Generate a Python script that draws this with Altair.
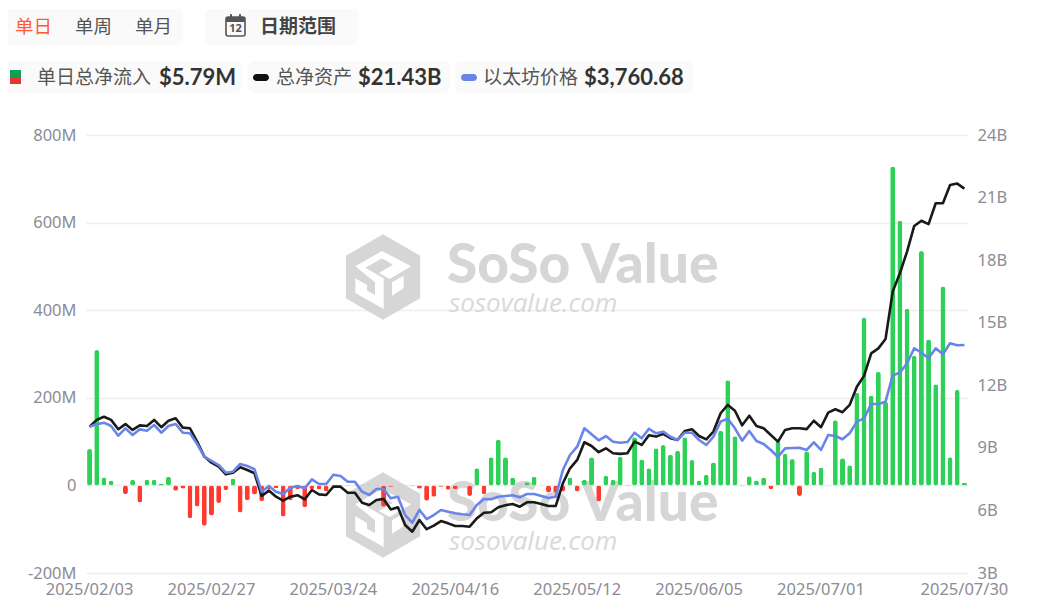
import altair as alt
import pandas as pd

dates = """2025/02/03 02/04 02/05 02/06 02/07 02/10 02/11 02/12 02/13 02/14 02/18 02/19 02/20 02/21 02/24 02/25 02/26 02/27 02/28
03/03 03/04 03/05 03/06 03/07 03/10 03/11 03/12 03/13 03/14 03/17 03/18 03/19 03/20 03/21 03/24 03/25 03/26 03/27 03/28
03/31 04/01 04/02 04/03 04/04 04/07 04/08 04/09 04/10 04/11 04/14 04/15 04/16 04/17 04/21 04/22 04/23 04/24 04/25
04/28 04/29 04/30 05/01 05/02 05/05 05/06 05/07 05/08 05/09 05/12 05/13 05/14 05/15 05/16 05/19 05/20 05/21 05/22 05/23
05/27 05/28 05/29 05/30 06/02 06/03 06/04 06/05 06/06 06/09 06/10 06/11 06/12 06/13 06/16 06/17 06/18 06/20 06/23 06/24 06/25 06/26 06/27
06/30 07/01 07/02 07/03 07/07 07/08 07/09 07/10 07/11 07/14 07/15 07/16 07/17 07/18 07/21 07/22 07/23 07/24 07/25 07/28 07/29 07/30""".split()
dates = [d if d.startswith("2025") else "2025/" + d for d in dates]

tick_dates = ["2025/02/03", "2025/02/27", "2025/03/24", "2025/04/16", "2025/05/12",
              "2025/06/05", "2025/07/01", "2025/07/30"]

flow = [83, 309, 18, 11, 0, -20, 13, -39, 13, 13, 4, 20, -12, -7, -75, -48, -92, -69, -40, -11,
        16, -62, -34, -21, -36, -8, -6, -71, -34, -8, -50, -8, -9, -14, -2, -1, -2, -1, 2, 2,
        -1, -49, -3, -1, -1, -2, -7, -35, -26, -3, -10, -8, -1, -24, 39, -20, 64, 104, 64, 18,
        -2, 7, 20, -1, -16, -17, -14, 18, -14, 13, 64, -37, 22, 13, 65, 1, 110, 59, 39, 85,
        92, 70, 79, 110, 58, 11, 24, 52, 125, 240, 112, -2, 21, 11, 18, -8, 102, 72, 60, -24,
        78, 31, 41, -1, 149, 62, 46, 211, 383, 205, 259, 191, 728, 604, 403, 296, 535, 333, 231, 454,
        64, 218, 5.79]

assets = [10.02, 10.34, 10.49, 10.34, 9.89, 10.14, 9.86, 10.08, 10.05, 10.34, 9.99, 10.30, 10.42, 9.97, 9.94, 9.30,
          8.58, 8.29, 8.10, 7.73, 7.81, 8.07, 7.94, 7.78, 6.69, 6.95, 6.66, 6.47, 6.66, 6.73, 6.53, 6.98,
          6.77, 6.74, 7.14, 7.14, 6.85, 6.85, 6.37, 6.26, 6.50, 6.55, 6.05, 6.15, 5.30, 4.98, 5.54, 5.10,
          5.27, 5.49, 5.38, 5.25, 5.25, 5.22, 5.62, 5.89, 5.91, 6.15, 6.25, 6.31, 6.18, 6.39, 6.39, 6.31,
          6.21, 6.21, 7.30, 8.02, 8.42, 9.27, 9.09, 8.79, 8.98, 8.74, 8.71, 8.74, 9.30, 9.14, 9.60, 9.54,
          9.67, 9.46, 9.38, 9.81, 9.89, 9.57, 9.41, 9.78, 10.66, 11.06, 10.78, 10.08, 10.54, 10.05, 9.94, 9.62,
          9.30, 9.86, 9.94, 9.94, 9.90, 10.30, 9.99, 10.69, 10.85, 10.71, 11.06, 11.93, 12.45, 13.53, 13.77, 14.22,
          16.49, 17.37, 18.41, 19.64, 19.89, 19.73, 20.73, 20.73, 21.60, 21.67, 21.43]

price = [2706, 2737, 2758, 2715, 2590, 2685, 2599, 2672, 2655, 2728, 2629, 2715, 2741, 2629, 2621, 2483,
         2319, 2264, 2212, 2113, 2126, 2225, 2199, 2157, 1868, 1941, 1868, 1838, 1919, 1941, 1911, 2027,
         1967, 1967, 2087, 2070, 1997, 1997, 1868, 1825, 1903, 1903, 1782, 1803, 1567, 1468, 1632, 1515,
         1567, 1632, 1610, 1589, 1576, 1567, 1696, 1774, 1770, 1803, 1812, 1821, 1795, 1838, 1838, 1812,
         1786, 1803, 2147, 2341, 2448, 2685, 2608, 2530, 2586, 2513, 2500, 2509, 2629, 2556, 2680, 2621,
         2642, 2577, 2535, 2629, 2629, 2535, 2470, 2577, 2771, 2810, 2685, 2526, 2651, 2522, 2483, 2406,
         2315, 2427, 2431, 2435, 2406, 2505, 2406, 2599, 2586, 2544, 2621, 2771, 2814, 2999, 2999, 3029,
         3369, 3403, 3524, 3718, 3661, 3588, 3718, 3640, 3782, 3756, 3760.68]

df = pd.DataFrame({"date": dates, "flow": flow, "assets": assets, "price": price})
df["sign"] = ["up" if v >= 0 else "down" for v in flow]

LEFT, TOP, W, H = 86, 135, 882, 438
LATIN = "Lato"
CJK = "Noto Sans CJK SC"
one = pd.DataFrame({"k": [0]})


def txt(s, x, y, size, color, font=CJK, weight=400, align="left", style="normal"):
    return alt.Chart(one).mark_text(text=s, fontSize=size, color=color, font=font, fontWeight=weight,
                                    align=align, baseline="middle", fontStyle=style).encode(
        x=alt.value(x - LEFT), y=alt.value(y - TOP))


def box(x0, y0, x1, y1, fill="#fafafa", radius=6, stroke=None, sw=0):
    kw = dict(fill=fill, cornerRadius=radius)
    if stroke:
        kw.update(stroke=stroke, strokeWidth=sw)
    return alt.Chart(one).mark_rect(**kw).encode(
        x=alt.value(x0 - LEFT), x2=alt.value(x1 - LEFT), y=alt.value(y0 - TOP), y2=alt.value(y1 - TOP))


def glyph(path, x, y, size, fill):
    return alt.Chart(one).mark_point(shape=path, size=size, filled=True, fill=fill, opacity=1, strokeWidth=0).encode(
        x=alt.value(x - LEFT), y=alt.value(y - TOP))


HEX = "M0,-1 L.87,-.5 L.87,.5 L0,1 L-.87,.5 L-.87,-.5 Z"
S_W = ("M-.648,-.25 L-.023,-.609 L.656,-.25 L.156,.047 L-.094,-.094 L.234,-.289 L-.023,-.4375 L-.414,-.219 "
       "L.016,.031 L.016,.75 L-.648,.375 L-.648,.031 L-.375,.1875 L-.375,.32 L-.1875,.42 L-.1875,.125 Z")
R_W = "M.21,.125 L.484,-.03 L.484,.266 L.21,.4375 Z"
MARK_GRAY = "#d6d6d6"
LOGO_SIZE = 7292


def watermark(dy):
    return [
        glyph(HEX, 383, 277 + dy, LOGO_SIZE, MARK_GRAY),
        glyph(S_W, 383, 277 + dy, LOGO_SIZE, "#ffffff"),
        glyph(R_W, 383, 277 + dy, LOGO_SIZE, "#ffffff"),
        txt("SoSo Value", 447, 266 + dy, 55, MARK_GRAY, font="Lato", weight=900),
        txt("sosovalue.com", 449, 304 + dy, 26, "#d9d9d9", font="Open Sans", style="italic"),
    ]


chrome = [
    box(4, 9, 183, 45), box(205, 9, 358, 45),
    txt("单日", 15, 27, 18.5, "#ff5a36"), txt("单周", 75, 27, 18.5, "#555555"), txt("单月", 135, 27, 18.5, "#555555"),
    box(226, 17, 245, 36, fill="#fafafa", radius=2, stroke="#555555", sw=1.6),
    box(226, 17, 245, 22, fill="#555555", radius=1),
    box(230, 14, 232, 20, fill="#555555", radius=1),
    box(239, 14, 241, 20, fill="#555555", radius=1),
    txt("12", 235.5, 29, 11, "#555555", font="Noto Sans", weight=700, align="center"),
    txt("日期范围", 260, 27, 19, "#444444", weight=700),
    box(4, 61, 242, 93), box(248, 61, 450, 93), box(455, 61, 693, 93),
    box(10, 70, 21, 77, fill="#0f9d58", radius=0), box(10, 77, 21, 84, fill="#e0382a", radius=0),
    txt("单日总净流入", 37, 78, 19, "#555555"), txt("$5.79M", 159, 78, 22, "#333333", font=LATIN, weight=700),
    box(253, 74, 269, 81, fill="#111111", radius=3.5),
    txt("总净资产", 276, 78, 19, "#555555"), txt("$21.43B", 358, 78, 22, "#333333", font=LATIN, weight=700),
    box(461, 74, 477, 81, fill="#6a85e8", radius=3.5),
    txt("以太坊价格", 483, 78, 19, "#555555"), txt("$3,760.68", 584, 78, 22, "#333333", font=LATIN, weight=700),
]

x_enc = alt.X("date:N", sort=dates, title=None,
              scale=alt.Scale(paddingInner=0, paddingOuter=0),
              axis=alt.Axis(values=tick_dates, labelAngle=0, labelFont="Noto Sans", labelFontSize=16.5,
                            labelColor="#8c8c96", labelPadding=8, ticks=False, domain=False, grid=False,
                            labelOverlap=False))

bars = alt.Chart(df).mark_bar(size=5, cornerRadius=2.5).encode(
    x=x_enc,
    y=alt.Y("flow:Q", title=None, scale=alt.Scale(domain=[-200, 800], nice=False),
            axis=alt.Axis(values=[-200, 0, 200, 400, 600, 800], labelExpr="datum.value == 0 ? '0' : datum.value + 'M'",
                          labelFont="Noto Sans", labelFontSize=16.5, labelColor="#8c8c96", labelPadding=10,
                          ticks=False, domain=False, grid=True, gridColor="#eeeeee", gridWidth=1.5)),
    color=alt.Color("sign:N", legend=None, scale=alt.Scale(domain=["up", "down"], range=["#2ed158", "#ff3b30"])),
)

black = alt.Chart(df).mark_line(color="#1a1a1a", strokeWidth=2.6, strokeJoin="round").encode(
    x=alt.X("date:N", sort=dates),
    y=alt.Y("assets:Q", title=None, scale=alt.Scale(domain=[3, 24], nice=False),
            axis=alt.Axis(orient="right", values=[3, 6, 9, 12, 15, 18, 21, 24], labelExpr="datum.value + 'B'",
                          labelFont="Noto Sans", labelFontSize=16.5, labelColor="#8c8c96", labelPadding=9,
                          ticks=False, domain=False, grid=False)),
)

blue = alt.Chart(df).mark_line(color="#6a85e8", strokeWidth=2.6, strokeJoin="round").encode(
    x=alt.X("date:N", sort=dates),
    y=alt.Y("price:Q", title=None, scale=alt.Scale(domain=[819, 6469], nice=False), axis=None),
)

layers = chrome + watermark(0) + watermark(238) + [bars, black, blue]

chart = alt.layer(*layers).resolve_scale(y="independent", color="independent").properties(
    width=W, height=H,
    padding={"left": LEFT - 8, "top": TOP - 8, "right": 40, "bottom": 28},
    autosize=alt.AutoSizeParams(type="none"),
).configure_view(strokeWidth=0).configure(background="#ffffff") if False else alt.layer(*layers).resolve_scale(
    y="independent", color="independent").properties(
    width=W, height=H,
    padding={"left": LEFT - 8, "top": TOP - 8, "right": 40, "bottom": 28},
    autosize=alt.AutoSizeParams(type="none"),
).configure_view(strokeWidth=0)

chart.save("out.html", embed_options={"renderer": "svg", "actions": False})
